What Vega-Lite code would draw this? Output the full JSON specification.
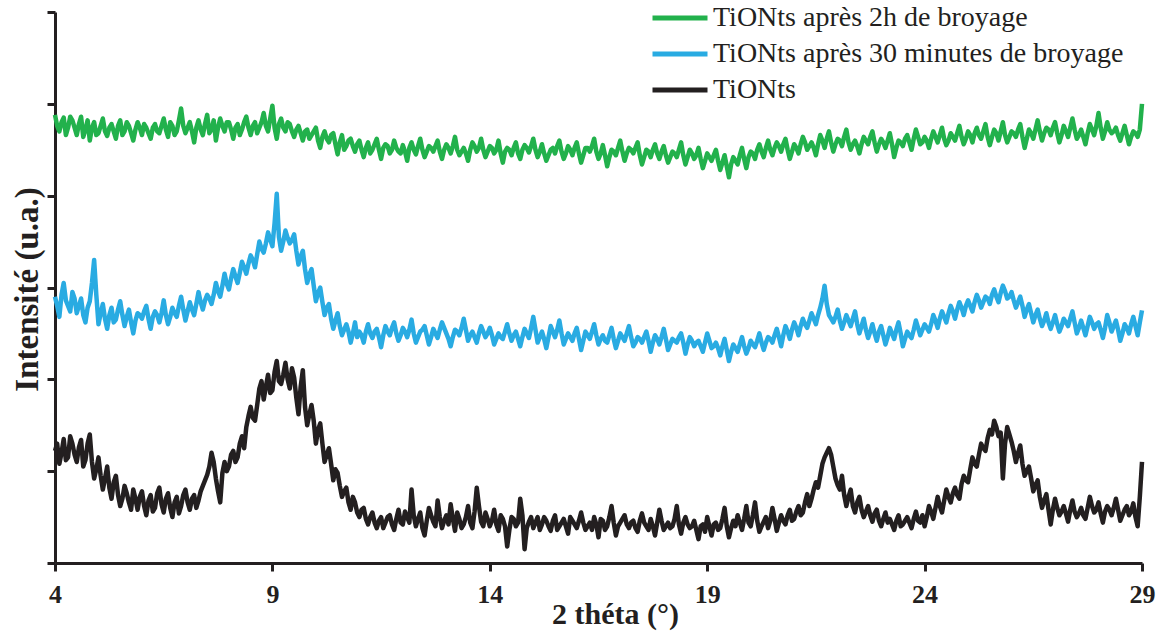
{
  "$schema": "https://vega.github.io/schema/vega-lite/v6.json",
  "width": 1087,
  "height": 551,
  "autosize": "none",
  "padding": {"left": 55, "top": 12, "right": 18, "bottom": 69},
  "background": "white",
  "config": {"view": {"stroke": null}, "font": "Liberation Serif"},
  "data": {"values": [
{"x":4.0,"g":4.88,"b":2.90,"k":1.22},{"x":4.1,"g":4.70,"b":2.68,"k":1.08},{"x":4.2,"g":4.85,"b":3.05,"k":1.35},{"x":4.3,"g":4.74,"b":2.80,"k":1.15},{"x":4.4,"g":4.82,"b":2.95,"k":1.30},
{"x":4.5,"g":4.66,"b":2.72,"k":1.10},{"x":4.6,"g":4.86,"b":2.88,"k":1.34},{"x":4.7,"g":4.72,"b":2.62,"k":1.12},{"x":4.8,"g":4.60,"b":2.85,"k":1.40},{"x":4.9,"g":4.80,"b":3.30,"k":0.92},
{"x":5.0,"g":4.68,"b":2.60,"k":1.15},{"x":5.1,"g":4.84,"b":2.82,"k":0.80},{"x":5.2,"g":4.65,"b":2.55,"k":1.05},{"x":5.3,"g":4.78,"b":2.78,"k":0.70},{"x":5.4,"g":4.62,"b":2.65,"k":0.95},
{"x":5.5,"g":4.82,"b":2.85,"k":0.62},{"x":5.6,"g":4.70,"b":2.58,"k":0.84},{"x":5.7,"g":4.76,"b":2.76,"k":0.66},{"x":5.8,"g":4.60,"b":2.50,"k":0.80},{"x":5.9,"g":4.80,"b":2.72,"k":0.58},
{"x":6.0,"g":4.66,"b":2.66,"k":0.78},{"x":6.1,"g":4.74,"b":2.80,"k":0.52},{"x":6.2,"g":4.62,"b":2.55,"k":0.74},{"x":6.3,"g":4.78,"b":2.74,"k":0.60},{"x":6.4,"g":4.68,"b":2.62,"k":0.82},
{"x":6.5,"g":4.84,"b":2.86,"k":0.55},{"x":6.6,"g":4.64,"b":2.60,"k":0.76},{"x":6.7,"g":4.76,"b":2.78,"k":0.50},{"x":6.8,"g":4.70,"b":2.68,"k":0.72},{"x":6.9,"g":4.95,"b":2.90,"k":0.62},
{"x":7.0,"g":4.68,"b":2.64,"k":0.80},{"x":7.1,"g":4.80,"b":2.84,"k":0.58},{"x":7.2,"g":4.58,"b":2.70,"k":0.74},{"x":7.3,"g":4.82,"b":2.95,"k":0.68},{"x":7.4,"g":4.66,"b":2.76,"k":0.84},
{"x":7.5,"g":4.88,"b":2.92,"k":0.96},{"x":7.6,"g":4.72,"b":2.82,"k":1.20},{"x":7.7,"g":4.60,"b":3.05,"k":0.92},{"x":7.8,"g":4.84,"b":2.90,"k":0.66},{"x":7.9,"g":4.70,"b":3.15,"k":1.10},
{"x":8.0,"g":4.80,"b":2.98,"k":1.05},{"x":8.1,"g":4.62,"b":3.20,"k":1.22},{"x":8.2,"g":4.78,"b":3.05,"k":1.15},{"x":8.3,"g":4.72,"b":3.28,"k":1.38},{"x":8.4,"g":4.86,"b":3.15,"k":1.48},
{"x":8.5,"g":4.66,"b":3.35,"k":1.70},{"x":8.6,"g":4.80,"b":3.22,"k":1.55},{"x":8.7,"g":4.74,"b":3.50,"k":1.90},{"x":8.8,"g":4.90,"b":3.38,"k":1.78},{"x":8.9,"g":4.70,"b":3.60,"k":2.05},
{"x":9.0,"g":4.98,"b":3.45,"k":1.88},{"x":9.1,"g":4.62,"b":4.02,"k":2.20},{"x":9.2,"g":4.84,"b":3.40,"k":1.95},{"x":9.3,"g":4.70,"b":3.62,"k":2.18},{"x":9.4,"g":4.78,"b":3.48,"k":1.90},
{"x":9.5,"g":4.64,"b":3.58,"k":2.02},{"x":9.6,"g":4.76,"b":3.25,"k":1.62},{"x":9.7,"g":4.60,"b":3.40,"k":2.10},{"x":9.8,"g":4.72,"b":3.05,"k":1.50},{"x":9.9,"g":4.66,"b":3.20,"k":1.72},
{"x":10.0,"g":4.74,"b":2.85,"k":1.30},{"x":10.1,"g":4.52,"b":3.00,"k":1.52},{"x":10.2,"g":4.70,"b":2.70,"k":1.10},{"x":10.3,"g":4.58,"b":2.82,"k":1.25},{"x":10.4,"g":4.68,"b":2.55,"k":0.90},
{"x":10.5,"g":4.45,"b":2.72,"k":0.98},{"x":10.6,"g":4.66,"b":2.48,"k":0.72},{"x":10.7,"g":4.54,"b":2.60,"k":0.82},{"x":10.8,"g":4.62,"b":2.40,"k":0.58},{"x":10.9,"g":4.48,"b":2.62,"k":0.66},
{"x":11.0,"g":4.60,"b":2.52,"k":0.50},{"x":11.1,"g":4.42,"b":2.40,"k":0.60},{"x":11.2,"g":4.58,"b":2.60,"k":0.42},{"x":11.3,"g":4.50,"b":2.45,"k":0.55},{"x":11.4,"g":4.62,"b":2.55,"k":0.38},
{"x":11.5,"g":4.40,"b":2.35,"k":0.50},{"x":11.6,"g":4.56,"b":2.58,"k":0.44},{"x":11.7,"g":4.46,"b":2.48,"k":0.52},{"x":11.8,"g":4.60,"b":2.62,"k":0.36},{"x":11.9,"g":4.48,"b":2.42,"k":0.58},
{"x":12.0,"g":4.55,"b":2.56,"k":0.42},{"x":12.1,"g":4.38,"b":2.46,"k":0.50},{"x":12.2,"g":4.58,"b":2.65,"k":0.80},{"x":12.3,"g":4.45,"b":2.40,"k":0.40},{"x":12.4,"g":4.62,"b":2.52,"k":0.55},
{"x":12.5,"g":4.42,"b":2.58,"k":0.30},{"x":12.6,"g":4.54,"b":2.38,"k":0.60},{"x":12.7,"g":4.48,"b":2.55,"k":0.45},{"x":12.8,"g":4.60,"b":2.45,"k":0.68},{"x":12.9,"g":4.40,"b":2.62,"k":0.38},
{"x":13.0,"g":4.56,"b":2.50,"k":0.52},{"x":13.1,"g":4.46,"b":2.36,"k":0.64},{"x":13.2,"g":4.64,"b":2.54,"k":0.35},{"x":13.3,"g":4.44,"b":2.48,"k":0.48},{"x":13.4,"g":4.52,"b":2.66,"k":0.42},
{"x":13.5,"g":4.38,"b":2.42,"k":0.62},{"x":13.6,"g":4.58,"b":2.52,"k":0.38},{"x":13.7,"g":4.48,"b":2.40,"k":0.82},{"x":13.8,"g":4.62,"b":2.58,"k":0.45},{"x":13.9,"g":4.42,"b":2.46,"k":0.55},
{"x":14.0,"g":4.54,"b":2.56,"k":0.40},{"x":14.1,"g":4.46,"b":2.38,"k":0.58},{"x":14.2,"g":4.60,"b":2.50,"k":0.35},{"x":14.3,"g":4.36,"b":2.44,"k":0.48},{"x":14.4,"g":4.52,"b":2.60,"k":0.18},
{"x":14.5,"g":4.44,"b":2.42,"k":0.50},{"x":14.6,"g":4.58,"b":2.52,"k":0.40},{"x":14.7,"g":4.40,"b":2.36,"k":0.70},{"x":14.8,"g":4.55,"b":2.55,"k":0.15},{"x":14.9,"g":4.47,"b":2.45,"k":0.45},
{"x":15.0,"g":4.62,"b":2.68,"k":0.38},{"x":15.1,"g":4.42,"b":2.40,"k":0.50},{"x":15.2,"g":4.56,"b":2.52,"k":0.42},{"x":15.3,"g":4.38,"b":2.34,"k":0.46},{"x":15.4,"g":4.50,"b":2.58,"k":0.35},
{"x":15.5,"g":4.46,"b":2.46,"k":0.52},{"x":15.6,"g":4.60,"b":2.64,"k":0.40},{"x":15.7,"g":4.40,"b":2.38,"k":0.48},{"x":15.8,"g":4.54,"b":2.50,"k":0.32},{"x":15.9,"g":4.44,"b":2.42,"k":0.46},
{"x":16.0,"g":4.58,"b":2.56,"k":0.38},{"x":16.1,"g":4.36,"b":2.32,"k":0.55},{"x":16.2,"g":4.52,"b":2.52,"k":0.36},{"x":16.3,"g":4.48,"b":2.44,"k":0.44},{"x":16.4,"g":4.62,"b":2.60,"k":0.50},
{"x":16.5,"g":4.40,"b":2.38,"k":0.28},{"x":16.6,"g":4.55,"b":2.48,"k":0.46},{"x":16.7,"g":4.32,"b":2.40,"k":0.40},{"x":16.8,"g":4.50,"b":2.56,"k":0.62},{"x":16.9,"g":4.44,"b":2.34,"k":0.30},
{"x":17.0,"g":4.60,"b":2.50,"k":0.44},{"x":17.1,"g":4.38,"b":2.42,"k":0.52},{"x":17.2,"g":4.52,"b":2.58,"k":0.38},{"x":17.3,"g":4.46,"b":2.36,"k":0.46},{"x":17.4,"g":4.58,"b":2.46,"k":0.34},
{"x":17.5,"g":4.34,"b":2.40,"k":0.54},{"x":17.6,"g":4.50,"b":2.52,"k":0.40},{"x":17.7,"g":4.42,"b":2.30,"k":0.48},{"x":17.8,"g":4.56,"b":2.48,"k":0.30},{"x":17.9,"g":4.40,"b":2.38,"k":0.58},
{"x":18.0,"g":4.54,"b":2.55,"k":0.36},{"x":18.1,"g":4.36,"b":2.32,"k":0.44},{"x":18.2,"g":4.48,"b":2.44,"k":0.40},{"x":18.3,"g":4.42,"b":2.40,"k":0.62},{"x":18.4,"g":4.58,"b":2.50,"k":0.32},
{"x":18.5,"g":4.34,"b":2.28,"k":0.50},{"x":18.6,"g":4.50,"b":2.46,"k":0.38},{"x":18.7,"g":4.40,"b":2.36,"k":0.46},{"x":18.8,"g":4.52,"b":2.42,"k":0.26},{"x":18.9,"g":4.30,"b":2.30,"k":0.42},
{"x":19.0,"g":4.46,"b":2.50,"k":0.50},{"x":19.1,"g":4.38,"b":2.34,"k":0.30},{"x":19.2,"g":4.50,"b":2.40,"k":0.44},{"x":19.3,"g":4.28,"b":2.26,"k":0.38},{"x":19.4,"g":4.44,"b":2.44,"k":0.60},
{"x":19.5,"g":4.20,"b":2.20,"k":0.28},{"x":19.6,"g":4.42,"b":2.38,"k":0.46},{"x":19.7,"g":4.34,"b":2.30,"k":0.52},{"x":19.8,"g":4.52,"b":2.46,"k":0.36},{"x":19.9,"g":4.30,"b":2.28,"k":0.62},
{"x":20.0,"g":4.48,"b":2.42,"k":0.40},{"x":20.1,"g":4.40,"b":2.35,"k":0.66},{"x":20.2,"g":4.56,"b":2.50,"k":0.34},{"x":20.3,"g":4.42,"b":2.32,"k":0.45},{"x":20.4,"g":4.60,"b":2.46,"k":0.38},
{"x":20.5,"g":4.44,"b":2.40,"k":0.60},{"x":20.6,"g":4.58,"b":2.55,"k":0.35},{"x":20.7,"g":4.48,"b":2.36,"k":0.52},{"x":20.8,"g":4.62,"b":2.58,"k":0.42},{"x":20.9,"g":4.40,"b":2.44,"k":0.58},
{"x":21.0,"g":4.56,"b":2.62,"k":0.48},{"x":21.1,"g":4.46,"b":2.48,"k":0.62},{"x":21.2,"g":4.64,"b":2.66,"k":0.55},{"x":21.3,"g":4.50,"b":2.56,"k":0.75},{"x":21.4,"g":4.58,"b":2.72,"k":0.70},
{"x":21.5,"g":4.44,"b":2.60,"k":0.88},{"x":21.6,"g":4.66,"b":2.78,"k":0.95},{"x":21.7,"g":4.52,"b":3.02,"k":1.15},{"x":21.8,"g":4.70,"b":2.70,"k":1.25},{"x":21.9,"g":4.48,"b":2.62,"k":1.05},
{"x":22.0,"g":4.62,"b":2.76,"k":0.85},{"x":22.1,"g":4.54,"b":2.55,"k":0.95},{"x":22.2,"g":4.72,"b":2.70,"k":0.62},{"x":22.3,"g":4.50,"b":2.58,"k":0.80},{"x":22.4,"g":4.60,"b":2.74,"k":0.55},
{"x":22.5,"g":4.46,"b":2.50,"k":0.72},{"x":22.6,"g":4.64,"b":2.66,"k":0.50},{"x":22.7,"g":4.56,"b":2.45,"k":0.62},{"x":22.8,"g":4.70,"b":2.60,"k":0.45},{"x":22.9,"g":4.48,"b":2.42,"k":0.58},
{"x":23.0,"g":4.62,"b":2.58,"k":0.40},{"x":23.1,"g":4.52,"b":2.38,"k":0.55},{"x":23.2,"g":4.68,"b":2.56,"k":0.48},{"x":23.3,"g":4.42,"b":2.44,"k":0.36},{"x":23.4,"g":4.60,"b":2.62,"k":0.52},
{"x":23.5,"g":4.54,"b":2.36,"k":0.42},{"x":23.6,"g":4.66,"b":2.52,"k":0.50},{"x":23.7,"g":4.50,"b":2.45,"k":0.38},{"x":23.8,"g":4.72,"b":2.64,"k":0.56},{"x":23.9,"g":4.56,"b":2.48,"k":0.44},
{"x":24.0,"g":4.64,"b":2.60,"k":0.40},{"x":24.1,"g":4.52,"b":2.52,"k":0.62},{"x":24.2,"g":4.70,"b":2.70,"k":0.48},{"x":24.3,"g":4.58,"b":2.56,"k":0.72},{"x":24.4,"g":4.74,"b":2.74,"k":0.55},
{"x":24.5,"g":4.55,"b":2.62,"k":0.80},{"x":24.6,"g":4.68,"b":2.80,"k":0.66},{"x":24.7,"g":4.60,"b":2.66,"k":0.82},{"x":24.8,"g":4.76,"b":2.84,"k":0.70},{"x":24.9,"g":4.56,"b":2.70,"k":0.95},
{"x":25.0,"g":4.70,"b":2.86,"k":0.88},{"x":25.1,"g":4.58,"b":2.74,"k":1.15},{"x":25.2,"g":4.74,"b":2.92,"k":1.05},{"x":25.3,"g":4.62,"b":2.78,"k":1.30},{"x":25.4,"g":4.78,"b":2.90,"k":1.22},
{"x":25.5,"g":4.55,"b":2.82,"k":1.45},{"x":25.6,"g":4.72,"b":2.98,"k":1.55},{"x":25.7,"g":4.60,"b":2.84,"k":1.38},{"x":25.8,"g":4.80,"b":3.02,"k":0.92},{"x":25.9,"g":4.58,"b":2.88,"k":1.48},
{"x":26.0,"g":4.70,"b":2.95,"k":1.32},{"x":26.1,"g":4.64,"b":2.78,"k":1.10},{"x":26.2,"g":4.78,"b":2.90,"k":1.28},{"x":26.3,"g":4.52,"b":2.68,"k":0.95},{"x":26.4,"g":4.72,"b":2.82,"k":1.05},
{"x":26.5,"g":4.62,"b":2.62,"k":0.78},{"x":26.6,"g":4.82,"b":2.76,"k":0.90},{"x":26.7,"g":4.60,"b":2.58,"k":0.60},{"x":26.8,"g":4.74,"b":2.72,"k":0.75},{"x":26.9,"g":4.66,"b":2.55,"k":0.42},
{"x":27.0,"g":4.80,"b":2.70,"k":0.70},{"x":27.1,"g":4.58,"b":2.52,"k":0.52},{"x":27.2,"g":4.76,"b":2.66,"k":0.62},{"x":27.3,"g":4.64,"b":2.58,"k":0.45},{"x":27.4,"g":4.84,"b":2.74,"k":0.68},
{"x":27.5,"g":4.62,"b":2.50,"k":0.50},{"x":27.6,"g":4.72,"b":2.64,"k":0.60},{"x":27.7,"g":4.56,"b":2.48,"k":0.48},{"x":27.8,"g":4.78,"b":2.68,"k":0.72},{"x":27.9,"g":4.66,"b":2.55,"k":0.55},
{"x":28.0,"g":4.90,"b":2.62,"k":0.66},{"x":28.1,"g":4.62,"b":2.45,"k":0.44},{"x":28.2,"g":4.80,"b":2.70,"k":0.62},{"x":28.3,"g":4.68,"b":2.52,"k":0.52},{"x":28.4,"g":4.74,"b":2.64,"k":0.70},
{"x":28.5,"g":4.60,"b":2.42,"k":0.46},{"x":28.6,"g":4.76,"b":2.60,"k":0.58},{"x":28.7,"g":4.56,"b":2.50,"k":0.52},{"x":28.8,"g":4.70,"b":2.68,"k":0.65},{"x":28.9,"g":4.64,"b":2.48,"k":0.40},
{"x":29.0,"g":5.00,"b":2.75,"k":1.10},
{"x":4.05,"g":4.76,"b":2.80,"k":1.30},{"x":4.15,"g":4.80,"b":2.92,"k":1.20},{"x":4.25,"g":4.66,"b":2.86,"k":1.12},{"x":4.35,"g":4.86,"b":2.74,"k":1.38},{"x":4.45,"g":4.74,"b":2.88,"k":1.18},
{"x":4.55,"g":4.78,"b":2.80,"k":1.26},{"x":4.65,"g":4.64,"b":2.70,"k":1.05},{"x":4.75,"g":4.82,"b":2.78,"k":1.30},{"x":4.85,"g":4.74,"b":3.05,"k":1.10},{"x":4.95,"g":4.66,"b":2.92,"k":1.02},
{"x":5.05,"g":4.76,"b":2.72,"k":0.95},{"x":5.15,"g":4.70,"b":2.66,"k":0.92},{"x":5.25,"g":4.74,"b":2.70,"k":0.82},{"x":5.35,"g":4.70,"b":2.62,"k":0.88},{"x":5.45,"g":4.76,"b":2.76,"k":0.74},
{"x":5.55,"g":4.66,"b":2.70,"k":0.70},{"x":5.65,"g":4.80,"b":2.68,"k":0.76},{"x":5.75,"g":4.68,"b":2.62,"k":0.58},{"x":5.85,"g":4.72,"b":2.64,"k":0.70},{"x":5.95,"g":4.74,"b":2.70,"k":0.72},
{"x":6.05,"g":4.78,"b":2.74,"k":0.62},{"x":6.15,"g":4.68,"b":2.66,"k":0.68},{"x":6.25,"g":4.74,"b":2.68,"k":0.56},{"x":6.35,"g":4.70,"b":2.70,"k":0.76},{"x":6.45,"g":4.76,"b":2.72,"k":0.64},
{"x":6.55,"g":4.72,"b":2.70,"k":0.70},{"x":6.65,"g":4.80,"b":2.68,"k":0.60},{"x":6.75,"g":4.66,"b":2.72,"k":0.66},{"x":6.85,"g":4.82,"b":2.80,"k":0.54},{"x":6.95,"g":4.76,"b":2.76,"k":0.74},
{"x":7.05,"g":4.74,"b":2.74,"k":0.66},{"x":7.15,"g":4.70,"b":2.76,"k":0.70},{"x":7.25,"g":4.74,"b":2.82,"k":0.60},{"x":7.35,"g":4.72,"b":2.84,"k":0.78},{"x":7.45,"g":4.78,"b":2.86,"k":0.90},
{"x":7.55,"g":4.68,"b":2.88,"k":1.05},{"x":7.65,"g":4.82,"b":2.92,"k":1.10},{"x":7.75,"g":4.74,"b":2.96,"k":0.78},{"x":7.85,"g":4.76,"b":3.02,"k":0.98},{"x":7.95,"g":4.80,"b":3.04,"k":1.00},
{"x":8.05,"g":4.72,"b":3.10,"k":1.18},{"x":8.15,"g":4.74,"b":3.12,"k":1.10},{"x":8.25,"g":4.66,"b":3.16,"k":1.30},{"x":8.35,"g":4.80,"b":3.22,"k":1.25},{"x":8.45,"g":4.74,"b":3.26,"k":1.60},
{"x":8.55,"g":4.76,"b":3.30,"k":1.58},{"x":8.65,"g":4.68,"b":3.36,"k":1.72},{"x":8.75,"g":4.80,"b":3.42,"k":1.98},{"x":8.85,"g":4.76,"b":3.48,"k":1.92},{"x":8.95,"g":4.84,"b":3.52,"k":1.85},
{"x":9.05,"g":4.74,"b":3.70,"k":2.08},{"x":9.15,"g":4.78,"b":3.55,"k":1.98},{"x":9.25,"g":4.74,"b":3.50,"k":2.05},{"x":9.35,"g":4.80,"b":3.54,"k":2.00},{"x":9.45,"g":4.70,"b":3.52,"k":2.12},
{"x":9.55,"g":4.72,"b":3.40,"k":1.80},{"x":9.65,"g":4.68,"b":3.34,"k":1.92},{"x":9.75,"g":4.70,"b":3.20,"k":1.70},{"x":9.85,"g":4.62,"b":3.14,"k":1.62},{"x":9.95,"g":4.70,"b":3.02,"k":1.55},
{"x":10.05,"g":4.60,"b":2.94,"k":1.45},{"x":10.15,"g":4.64,"b":2.84,"k":1.30},{"x":10.25,"g":4.62,"b":2.78,"k":1.18},{"x":10.35,"g":4.66,"b":2.66,"k":1.08},{"x":10.45,"g":4.56,"b":2.64,"k":1.02},
{"x":10.55,"g":4.58,"b":2.58,"k":0.84},{"x":10.65,"g":4.50,"b":2.54,"k":0.78},{"x":10.75,"g":4.60,"b":2.52,"k":0.66},{"x":10.85,"g":4.54,"b":2.50,"k":0.72},{"x":10.95,"g":4.56,"b":2.46,"k":0.55},
{"x":11.05,"g":4.50,"b":2.48,"k":0.58},{"x":11.15,"g":4.52,"b":2.52,"k":0.48},{"x":11.25,"g":4.46,"b":2.50,"k":0.50},{"x":11.35,"g":4.56,"b":2.52,"k":0.44},{"x":11.45,"g":4.50,"b":2.46,"k":0.46},
{"x":11.55,"g":4.52,"b":2.48,"k":0.38},{"x":11.65,"g":4.54,"b":2.52,"k":0.50},{"x":11.75,"g":4.50,"b":2.56,"k":0.42},{"x":11.85,"g":4.52,"b":2.50,"k":0.48},{"x":11.95,"g":4.46,"b":2.48,"k":0.44},
{"x":12.05,"g":4.48,"b":2.52,"k":0.56},{"x":12.15,"g":4.52,"b":2.54,"k":0.44},{"x":12.25,"g":4.50,"b":2.50,"k":0.52},{"x":12.35,"g":4.54,"b":2.46,"k":0.48},{"x":12.45,"g":4.50,"b":2.54,"k":0.38},
{"x":12.55,"g":4.48,"b":2.48,"k":0.46},{"x":12.65,"g":4.52,"b":2.46,"k":0.52},{"x":12.75,"g":4.54,"b":2.50,"k":0.40},{"x":12.85,"g":4.48,"b":2.54,"k":0.50},{"x":12.95,"g":4.50,"b":2.56,"k":0.46},
{"x":13.05,"g":4.52,"b":2.44,"k":0.42},{"x":13.15,"g":4.54,"b":2.46,"k":0.48},{"x":13.25,"g":4.50,"b":2.52,"k":0.55},{"x":13.35,"g":4.48,"b":2.56,"k":0.38},{"x":13.45,"g":4.46,"b":2.54,"k":0.50},
{"x":13.55,"g":4.50,"b":2.48,"k":0.44},{"x":13.65,"g":4.54,"b":2.46,"k":0.56},{"x":13.75,"g":4.52,"b":2.50,"k":0.62},{"x":13.85,"g":4.50,"b":2.52,"k":0.40},{"x":13.95,"g":4.48,"b":2.50,"k":0.48},
{"x":14.05,"g":4.52,"b":2.48,"k":0.46},{"x":14.15,"g":4.50,"b":2.44,"k":0.42},{"x":14.25,"g":4.46,"b":2.46,"k":0.52},{"x":14.35,"g":4.48,"b":2.52,"k":0.40},{"x":14.45,"g":4.50,"b":2.50,"k":0.36},
{"x":14.55,"g":4.52,"b":2.48,"k":0.48},{"x":14.65,"g":4.46,"b":2.44,"k":0.44},{"x":14.75,"g":4.50,"b":2.46,"k":0.52},{"x":14.85,"g":4.52,"b":2.50,"k":0.38},{"x":14.95,"g":4.54,"b":2.56,"k":0.50},
{"x":15.05,"g":4.50,"b":2.54,"k":0.44},{"x":15.15,"g":4.48,"b":2.46,"k":0.36},{"x":15.25,"g":4.46,"b":2.44,"k":0.50},{"x":15.35,"g":4.44,"b":2.46,"k":0.40},{"x":15.45,"g":4.52,"b":2.52,"k":0.46},
{"x":15.55,"g":4.54,"b":2.54,"k":0.36},{"x":15.65,"g":4.48,"b":2.50,"k":0.44},{"x":15.75,"g":4.46,"b":2.44,"k":0.40},{"x":15.85,"g":4.50,"b":2.46,"k":0.50},{"x":15.95,"g":4.52,"b":2.50,"k":0.42},
{"x":16.05,"g":4.46,"b":2.44,"k":0.46},{"x":16.15,"g":4.44,"b":2.42,"k":0.44},{"x":16.25,"g":4.52,"b":2.48,"k":0.40},{"x":16.35,"g":4.54,"b":2.52,"k":0.36},{"x":16.45,"g":4.48,"b":2.48,"k":0.42},
{"x":16.55,"g":4.46,"b":2.44,"k":0.48},{"x":16.65,"g":4.44,"b":2.42,"k":0.36},{"x":16.75,"g":4.42,"b":2.48,"k":0.50},{"x":16.85,"g":4.48,"b":2.44,"k":0.44},{"x":16.95,"g":4.52,"b":2.42,"k":0.40},
{"x":17.05,"g":4.48,"b":2.46,"k":0.48},{"x":17.15,"g":4.46,"b":2.50,"k":0.42},{"x":17.25,"g":4.50,"b":2.46,"k":0.44},{"x":17.35,"g":4.52,"b":2.40,"k":0.38},{"x":17.45,"g":4.44,"b":2.44,"k":0.46},
{"x":17.55,"g":4.42,"b":2.46,"k":0.44},{"x":17.65,"g":4.48,"b":2.42,"k":0.36},{"x":17.75,"g":4.50,"b":2.40,"k":0.40},{"x":17.85,"g":4.46,"b":2.44,"k":0.44},{"x":17.95,"g":4.48,"b":2.46,"k":0.46},
{"x":18.05,"g":4.44,"b":2.44,"k":0.40},{"x":18.15,"g":4.42,"b":2.38,"k":0.38},{"x":18.25,"g":4.46,"b":2.42,"k":0.48},{"x":18.35,"g":4.50,"b":2.46,"k":0.42},{"x":18.45,"g":4.44,"b":2.40,"k":0.44},
{"x":18.55,"g":4.42,"b":2.38,"k":0.42},{"x":18.65,"g":4.46,"b":2.42,"k":0.40},{"x":18.75,"g":4.44,"b":2.40,"k":0.36},{"x":18.85,"g":4.40,"b":2.36,"k":0.40},{"x":18.95,"g":4.38,"b":2.40,"k":0.34},
{"x":19.05,"g":4.42,"b":2.42,"k":0.40},{"x":19.15,"g":4.44,"b":2.36,"k":0.42},{"x":19.25,"g":4.38,"b":2.34,"k":0.36},{"x":19.35,"g":4.36,"b":2.36,"k":0.48},{"x":19.45,"g":4.32,"b":2.32,"k":0.40},
{"x":19.55,"g":4.34,"b":2.30,"k":0.38},{"x":19.65,"g":4.38,"b":2.34,"k":0.40},{"x":19.75,"g":4.44,"b":2.38,"k":0.44},{"x":19.85,"g":4.40,"b":2.36,"k":0.48},{"x":19.95,"g":4.42,"b":2.34,"k":0.44},
{"x":20.05,"g":4.46,"b":2.38,"k":0.52},{"x":20.15,"g":4.50,"b":2.42,"k":0.46},{"x":20.25,"g":4.48,"b":2.40,"k":0.40},{"x":20.35,"g":4.52,"b":2.40,"k":0.50},{"x":20.45,"g":4.50,"b":2.44,"k":0.46},
{"x":20.55,"g":4.52,"b":2.48,"k":0.48},{"x":20.65,"g":4.54,"b":2.46,"k":0.44},{"x":20.75,"g":4.56,"b":2.48,"k":0.46},{"x":20.85,"g":4.50,"b":2.52,"k":0.52},{"x":20.95,"g":4.48,"b":2.54,"k":0.46},
{"x":21.05,"g":4.52,"b":2.56,"k":0.56},{"x":21.15,"g":4.56,"b":2.58,"k":0.52},{"x":21.25,"g":4.58,"b":2.60,"k":0.66},{"x":21.35,"g":4.54,"b":2.64,"k":0.62},{"x":21.45,"g":4.52,"b":2.66,"k":0.80},
{"x":21.55,"g":4.56,"b":2.70,"k":0.82},{"x":21.65,"g":4.60,"b":2.88,"k":1.08},{"x":21.75,"g":4.62,"b":2.82,"k":1.20},{"x":21.85,"g":4.58,"b":2.66,"k":1.18},{"x":21.95,"g":4.56,"b":2.68,"k":0.92},
{"x":22.05,"g":4.60,"b":2.64,"k":0.80},{"x":22.15,"g":4.64,"b":2.62,"k":0.74},{"x":22.25,"g":4.58,"b":2.64,"k":0.72},{"x":22.35,"g":4.56,"b":2.66,"k":0.62},{"x":22.45,"g":4.54,"b":2.60,"k":0.66},
{"x":22.55,"g":4.56,"b":2.58,"k":0.58},{"x":22.65,"g":4.60,"b":2.54,"k":0.56},{"x":22.75,"g":4.64,"b":2.52,"k":0.52},{"x":22.85,"g":4.58,"b":2.50,"k":0.54},{"x":22.95,"g":4.56,"b":2.52,"k":0.46},
{"x":23.05,"g":4.58,"b":2.48,"k":0.48},{"x":23.15,"g":4.60,"b":2.46,"k":0.44},{"x":23.25,"g":4.56,"b":2.50,"k":0.42},{"x":23.35,"g":4.52,"b":2.54,"k":0.46},{"x":23.45,"g":4.58,"b":2.50,"k":0.40},
{"x":23.55,"g":4.62,"b":2.44,"k":0.46},{"x":23.65,"g":4.58,"b":2.48,"k":0.44},{"x":23.75,"g":4.62,"b":2.54,"k":0.48},{"x":23.85,"g":4.64,"b":2.56,"k":0.46},{"x":23.95,"g":4.58,"b":2.54,"k":0.52},
{"x":24.05,"g":4.60,"b":2.56,"k":0.50},{"x":24.15,"g":4.62,"b":2.60,"k":0.56},{"x":24.25,"g":4.64,"b":2.64,"k":0.60},{"x":24.35,"g":4.66,"b":2.66,"k":0.62},{"x":24.45,"g":4.62,"b":2.68,"k":0.68},
{"x":24.55,"g":4.60,"b":2.72,"k":0.72},{"x":24.65,"g":4.64,"b":2.74,"k":0.76},{"x":24.75,"g":4.68,"b":2.76,"k":0.74},{"x":24.85,"g":4.64,"b":2.78,"k":0.86},{"x":24.95,"g":4.62,"b":2.80,"k":0.90},
{"x":25.05,"g":4.66,"b":2.80,"k":1.02},{"x":25.15,"g":4.68,"b":2.84,"k":1.08},{"x":25.25,"g":4.66,"b":2.86,"k":1.18},{"x":25.35,"g":4.70,"b":2.84,"k":1.25},{"x":25.45,"g":4.64,"b":2.88,"k":1.36},
{"x":25.55,"g":4.64,"b":2.92,"k":1.40},{"x":25.65,"g":4.68,"b":2.90,"k":1.48},{"x":25.75,"g":4.70,"b":2.94,"k":1.42},{"x":25.85,"g":4.66,"b":2.96,"k":1.30},{"x":25.95,"g":4.64,"b":2.90,"k":1.40},
{"x":26.05,"g":4.68,"b":2.86,"k":1.22},{"x":26.15,"g":4.72,"b":2.84,"k":1.20},{"x":26.25,"g":4.64,"b":2.80,"k":1.08},{"x":26.35,"g":4.62,"b":2.76,"k":1.00},{"x":26.45,"g":4.68,"b":2.72,"k":0.92},
{"x":26.55,"g":4.72,"b":2.70,"k":0.85},{"x":26.65,"g":4.70,"b":2.66,"k":0.72},{"x":26.75,"g":4.68,"b":2.64,"k":0.68},{"x":26.85,"g":4.72,"b":2.62,"k":0.58},{"x":26.95,"g":4.74,"b":2.62,"k":0.58},
{"x":27.05,"g":4.68,"b":2.60,"k":0.60},{"x":27.15,"g":4.66,"b":2.58,"k":0.56},{"x":27.25,"g":4.70,"b":2.62,"k":0.54},{"x":27.35,"g":4.74,"b":2.66,"k":0.58},{"x":27.45,"g":4.72,"b":2.62,"k":0.56},
{"x":27.55,"g":4.66,"b":2.56,"k":0.54},{"x":27.65,"g":4.64,"b":2.56,"k":0.52},{"x":27.75,"g":4.68,"b":2.58,"k":0.60},{"x":27.85,"g":4.72,"b":2.62,"k":0.62},{"x":27.95,"g":4.76,"b":2.60,"k":0.58},
{"x":28.05,"g":4.74,"b":2.54,"k":0.54},{"x":28.15,"g":4.70,"b":2.56,"k":0.56},{"x":28.25,"g":4.72,"b":2.62,"k":0.58},{"x":28.35,"g":4.70,"b":2.58,"k":0.60},{"x":28.45,"g":4.66,"b":2.54,"k":0.58},
{"x":28.55,"g":4.68,"b":2.50,"k":0.52},{"x":28.65,"g":4.66,"b":2.56,"k":0.62},{"x":28.75,"g":4.64,"b":2.60,"k":0.56},{"x":28.85,"g":4.68,"b":2.58,"k":0.50},{"x":28.95,"g":4.72,"b":2.62,"k":0.72}
  ]},
  "transform": [{"fold": ["g", "b", "k"], "as": ["serie", "v"]}],
  "mark": {"type": "line", "strokeWidth": 4.5, "strokeJoin": "round", "clip": false},
  "encoding": {
    "x": {
      "field": "x", "type": "quantitative",
      "scale": {"domain": [4, 29], "nice": false, "zero": false},
      "axis": {
        "title": "2 théta (°)", "values": [4, 9, 14, 19, 24, 29], "grid": false,
        "domainColor": "#231F20", "domainWidth": 3, "tickColor": "#231F20", "tickWidth": 3, "tickSize": 8,
        "labelFont": "Liberation Serif", "labelFontWeight": "bold", "labelFontSize": 26, "labelColor": "#231F20", "labelPadding": 10,
        "labelFlush": false, "labelOverlap": false,
        "titleFont": "Liberation Serif", "titleFontWeight": "bold", "titleFontSize": 30, "titleColor": "#231F20",
        "titleX": 560, "titleY": 60, "titleBaseline": "alphabetic", "titleAlign": "center"
      }
    },
    "y": {
      "field": "v", "type": "quantitative",
      "scale": {"domain": [0, 6], "nice": false},
      "axis": {
        "title": "Intensité (u.a.)", "values": [0, 1, 2, 3, 4, 5, 6], "labels": false, "grid": false,
        "domainColor": "#231F20", "domainWidth": 3, "tickColor": "#231F20", "tickWidth": 3, "tickSize": 8,
        "titleFont": "Liberation Serif", "titleFontWeight": "bold", "titleFontSize": 33, "titleColor": "#231F20",
        "titleX": -18, "titleY": 277, "titleAngle": -90, "titleBaseline": "alphabetic", "titleAlign": "center"
      }
    },
    "color": {
      "field": "serie", "type": "nominal",
      "scale": {"domain": ["g", "b", "k"], "range": ["#22B14C", "#29ABE2", "#231F20"]},
      "legend": {
        "title": null, "orient": "none", "legendX": 610, "legendY": -9,
        "symbolType": "M-2.2,0H2.2", "symbolSize": 625, "symbolStrokeWidth": 5,
        "labelOffset": 18, "rowPadding": 7, "padding": 0,
        "labelFont": "Liberation Serif", "labelFontSize": 28, "labelColor": "#231F20", "labelLimit": 600,
        "labelExpr": "datum.label == 'g' ? 'TiONts après 2h de broyage' : datum.label == 'b' ? 'TiONts après 30 minutes de broyage' : 'TiONts'"
      }
    }
  }
}
